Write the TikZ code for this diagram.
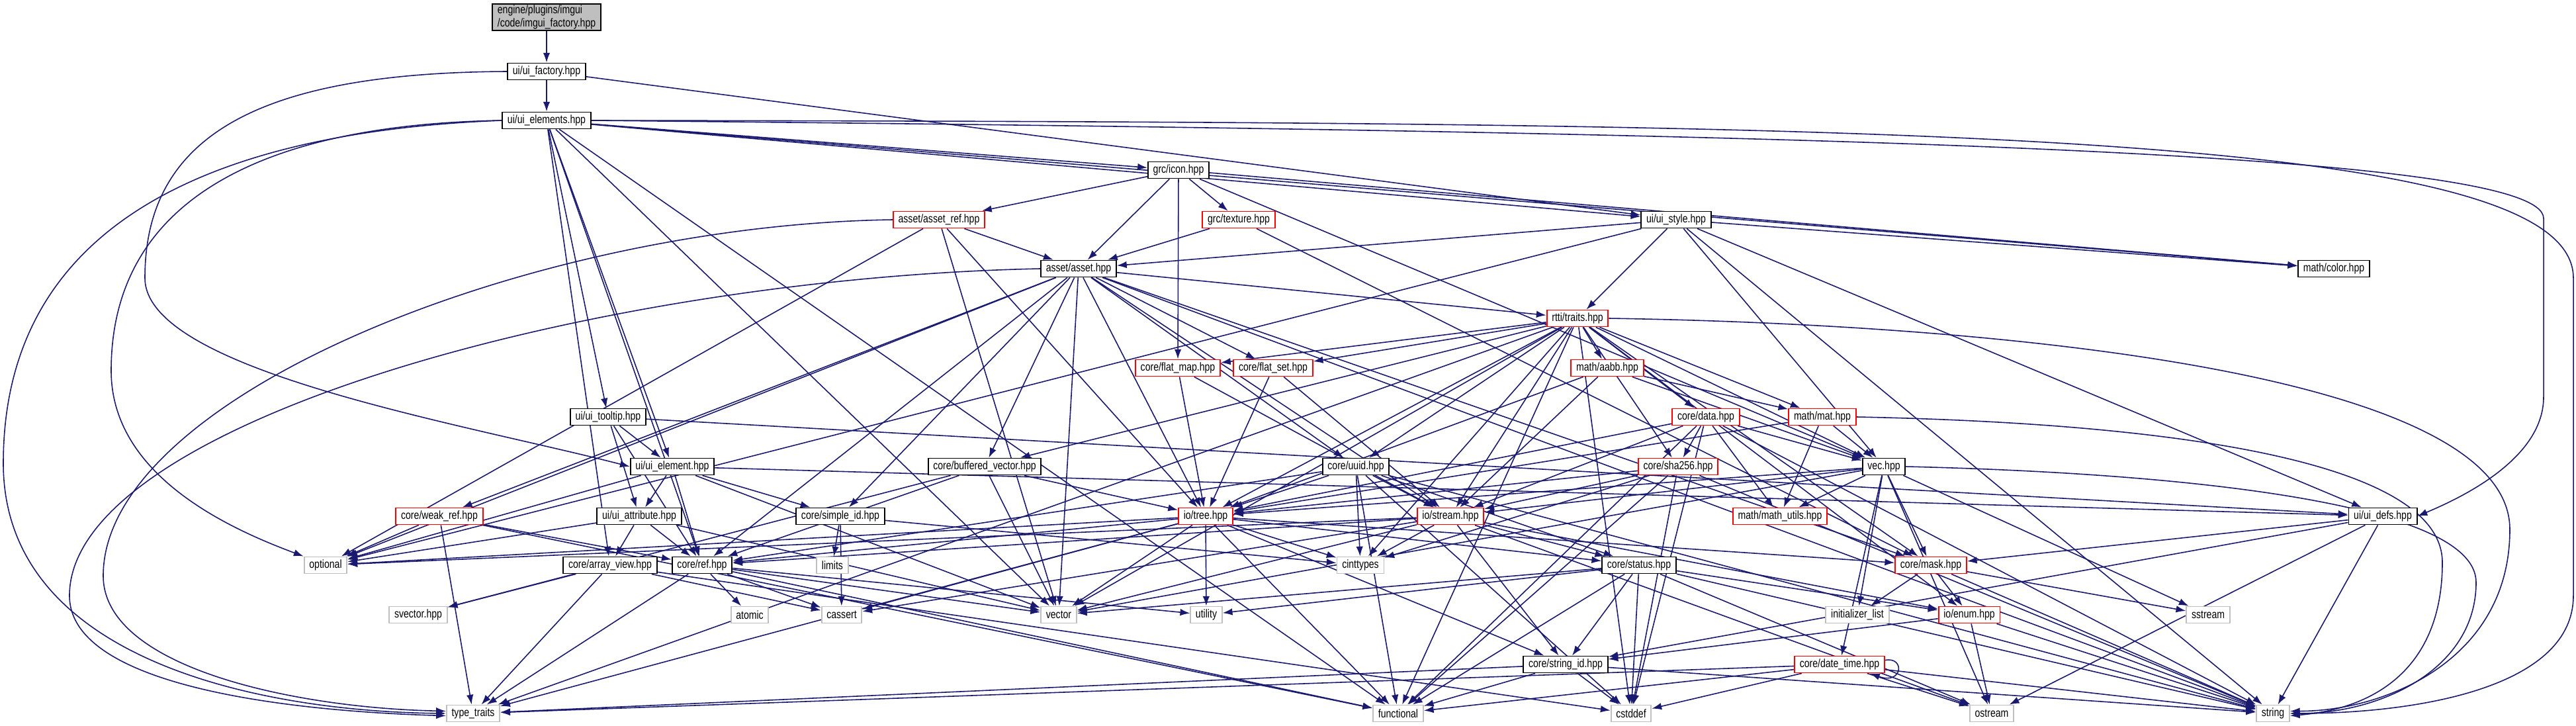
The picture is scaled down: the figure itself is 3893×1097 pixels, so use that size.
\documentclass[tikz,border=0pt]{standalone}
\usepackage{fontspec}
\newfontfamily\dotfont[FakeStretch=0.8]{Liberation Sans}
\usetikzlibrary{arrows.meta}
\definecolor{edgeblue}{RGB}{25,25,112}
\definecolor{sysgray}{RGB}{191,191,191}
\definecolor{rootgray}{RGB}{191,191,191}
\pgfdeclarelayer{bg}
\pgfsetlayers{bg,main}

\begin{document}
\begin{tikzpicture}[x=0.01cm,y=-0.01cm,
  hdr/.style={draw=black,line width=.55pt,fill=white,inner xsep=2.2pt,inner ysep=0pt,minimum height=7.1pt,font=\dotfont\fontsize{5}{5.6}\selectfont},
  redhdr/.style={hdr,draw=red},
  syshdr/.style={hdr,draw=sysgray},
  dep/.style={edgeblue,line width=.45pt,-{Latex[length=4.2pt,width=3pt]}}]
\useasboundingbox (0,0) rectangle (3893,1097);
\node[hdr,fill=rootgray,align=left,minimum height=11.4pt] (root) at (826,26) {engine/plugins/imgui\\/code/imgui\_factory.hpp};
\node[hdr] (factory) at (826,108) {ui/ui\_factory.hpp};
\node[hdr] (elements) at (826,182) {ui/ui\_elements.hpp};
\node[hdr] (icon) at (1781,257) {grc/icon.hpp};
\node[redhdr] (assetref) at (1419,332) {asset/asset\_ref.hpp};
\node[redhdr] (texture) at (1872,332) {grc/texture.hpp};
\node[hdr] (style) at (2533,332) {ui/ui\_style.hpp};
\node[hdr] (asset) at (1630,406) {asset/asset.hpp};
\node[hdr] (color) at (3527,406) {math/color.hpp};
\node[redhdr] (traits) at (2384,481) {rtti/traits.hpp};
\node[redhdr] (flatmap) at (1780,556) {core/flat\_map.hpp};
\node[redhdr] (flatset) at (1924,556) {core/flat\_set.hpp};
\node[redhdr] (aabb) at (2429,556) {math/aabb.hpp};
\node[hdr] (tooltip) at (919,630) {ui/ui\_tooltip.hpp};
\node[redhdr] (data) at (2578,630) {core/data.hpp};
\node[redhdr] (mat) at (2754,630) {math/mat.hpp};
\node[hdr] (element) at (1016,705) {ui/ui\_element.hpp};
\node[hdr] (bufvec) at (1488,705) {core/buffered\_vector.hpp};
\node[hdr] (uuid) at (2049,705) {core/uuid.hpp};
\node[redhdr] (sha256) at (2536,705) {core/sha256.hpp};
\node[hdr] (vec) at (2847,705) {vec.hpp};
\node[redhdr] (weakref) at (664,780) {core/weak\_ref.hpp};
\node[hdr] (attribute) at (966,780) {ui/ui\_attribute.hpp};
\node[hdr] (simpleid) at (1270,780) {core/simple\_id.hpp};
\node[redhdr] (tree) at (1822,780) {io/tree.hpp};
\node[redhdr] (stream) at (2192,780) {io/stream.hpp};
\node[redhdr] (mathutils) at (2690,780) {math/math\_utils.hpp};
\node[hdr] (uidefs) at (3601,780) {ui/ui\_defs.hpp};
\node[syshdr] (optional) at (492,854) {optional};
\node[hdr] (arrayview) at (922,854) {core/array\_view.hpp};
\node[hdr] (coreref) at (1061,854) {core/ref.hpp};
\node[syshdr] (limits) at (1258,854) {limits};
\node[syshdr] (cinttypes) at (2056,854) {cinttypes};
\node[hdr] (status) at (2477,854) {core/status.hpp};
\node[redhdr] (mask) at (2918,854) {core/mask.hpp};
\node[syshdr] (svector) at (632,929) {svector.hpp};
\node[syshdr] (atomic) at (1133,929) {atomic};
\node[syshdr] (cassert) at (1272,929) {cassert};
\node[syshdr] (vector) at (1600,929) {vector};
\node[syshdr] (utility) at (1823,929) {utility};
\node[syshdr] (initlist) at (2807,929) {initializer\_list};
\node[redhdr] (enum) at (2976,929) {io/enum.hpp};
\node[syshdr] (sstream) at (3337,929) {sstream};
\node[hdr] (stringid) at (2366,1004) {core/string\_id.hpp};
\node[redhdr] (datetime) at (2780,1004) {core/date\_time.hpp};
\node[syshdr] (typetraits) at (715,1078) {type\_traits};
\node[syshdr] (functional) at (2113,1078) {functional};
\node[syshdr] (cstddef) at (2465,1078) {cstddef};
\node[syshdr] (ostream) at (3010,1078) {ostream};
\node[syshdr] (string) at (3435,1078) {string};
\begin{pgfonlayer}{bg}
\draw[dep] (root) -- (factory);
\foreach \t in {elements,style} \draw[dep] (factory) -- (\t);
\draw[dep] (factory.west) .. controls (400,110) and (219,200) .. (219,420) .. controls (219,560) and (700,640) .. (element.west);
\foreach \t in {icon,style,color,tooltip,element,arrayview,vector,coreref,functional} \draw[dep] (elements) -- (\t);
\draw[dep] (elements.west) .. controls (400,188) and (168,300) .. (168,560) .. controls (168,720) and (350,800) .. (optional.north west);
\draw[dep] (elements.west) .. controls (300,200) and (5,350) .. (5,700) .. controls (5,1000) and (400,1075) .. (typetraits.west);
\draw[dep] (elements.east) .. controls (2800,185) and (3889,190) .. (3889,420) -- (3889,900) .. controls (3889,1040) and (3650,1078) .. (string.east);
\draw[dep] (elements.east) .. controls (2800,200) and (3844,230) .. (3844,330) -- (3844,600) .. controls (3844,700) and (3700,760) .. (uidefs.east);
\foreach \t in {assetref,texture,asset,flatmap,color,vec} \draw[dep] (icon) -- (\t);
\foreach \t in {asset,optional,vector,tree} \draw[dep] (assetref) -- (\t);
\draw[dep] (assetref.west) .. controls (800,340) and (156,600) .. (156,870) .. controls (156,1010) and (450,1070) .. ([yshift=1pt]typetraits.west);
\foreach \t in {asset,mask} \draw[dep] (texture) -- (\t);
\foreach \t in {asset,traits,color,uidefs,vec,optional,string} \draw[dep] (style) -- (\t);
\foreach \t in {flatset,traits,bufvec,weakref,optional,coreref,tree,stream,uuid,vector,string,mask,simpleid} \draw[dep] (asset) -- (\t);
\draw[dep] (asset.west) .. controls (900,420) and (105,640) .. (105,900) .. controls (105,1040) and (450,1075) .. ([yshift=-1pt]typetraits.west);
\foreach \t in {flatmap,flatset,aabb,data,mat,uuid,sha256,vec,tree,stream,bufvec,cinttypes,mask,enum,typetraits,functional,cstddef,vector} \draw[dep] (traits) -- (\t);
\draw[dep] (traits.east) .. controls (3000,490) and (3793,560) .. (3793,800) .. controls (3793,1000) and (3600,1075) .. ([yshift=1pt]string.east);
\foreach \t in {tree,stream} \draw[dep] (flatmap) -- (\t);
\foreach \t in {tree,stream} \draw[dep] (flatset) -- (\t);
\foreach \t in {mat,vec,stream,tree} \draw[dep] (aabb) -- (\t);
\foreach \t in {sha256,mathutils,vec,stream,tree,cstddef,functional,string} \draw[dep] (data) -- (\t);
\foreach \t in {vec,mathutils,tree} \draw[dep] (mat) -- (\t);
\draw[dep] (mat.east) .. controls (3300,640) and (3691,700) .. (3691,850) .. controls (3691,1000) and (3600,1070) .. ([yshift=-1pt]string.east);
\foreach \t in {stream,cinttypes,status,functional,cstddef,string,coreref,tree} \draw[dep] (uuid) -- (\t);
\foreach \t in {stream,tree,cinttypes,functional,cstddef,string} \draw[dep] (sha256) -- (\t);
\foreach \t in {mathutils,tree,stream,mask,initlist,sstream,ostream,datetime,vector} \draw[dep] (vec) -- (\t);
\draw[dep] (vec.east) .. controls (3300,715) and (3742,760) .. (3742,880) .. controls (3742,1010) and (3600,1078) .. (string.east);
\foreach \t in {coreref,optional,typetraits,vector,utility,cassert,cinttypes,status,stringid,functional,mask} \draw[dep] (tree) -- (\t);
\foreach \t in {cinttypes,status,stringid,vector,coreref,optional,ostream,cassert,enum} \draw[dep] (stream) -- (\t);
\foreach \t in {element,attribute,coreref,uidefs} \draw[dep] (tooltip) -- (\t);
\foreach \t in {attribute,simpleid,coreref,uidefs,vector,optional} \draw[dep] (element) -- (\t);
\foreach \t in {svector,vector,tree,coreref} \draw[dep] (bufvec) -- (\t);
\foreach \t in {optional,typetraits,functional,coreref} \draw[dep] (weakref) -- (\t);
\foreach \t in {optional,arrayview,coreref,vector} \draw[dep] (attribute) -- (\t);
\foreach \t in {limits,cinttypes,cassert} \draw[dep] (simpleid) -- (\t);
\foreach \t in {svector,typetraits,cassert,cstddef} \draw[dep] (arrayview) -- (\t);
\foreach \t in {atomic,cassert,vector,utility,functional,typetraits} \draw[dep] (coreref) -- (\t);
\foreach \t in {stringid,cstddef,functional,string,ostream,enum,vector,utility} \draw[dep] (status) -- (\t);
\foreach \t in {initlist,enum,sstream,string} \draw[dep] (mask) -- (\t);
\foreach \t in {mask,string,ostream,stringid} \draw[dep] (uidefs) -- (\t);
\foreach \t in {stringid,string,ostream} \draw[dep] (enum) -- (\t);
\foreach \t in {functional,cstddef,string,typetraits} \draw[dep] (stringid) -- (\t);
\foreach \t in {functional,cstddef,ostream,string,typetraits} \draw[dep] (datetime) -- (\t);
\draw[dep] ([yshift=-2pt]datetime.north east) .. controls +(30,-6) and +(50,18) .. ([xshift=-6.5pt]datetime.south east);
\end{pgfonlayer}
\end{tikzpicture}
\end{document}
